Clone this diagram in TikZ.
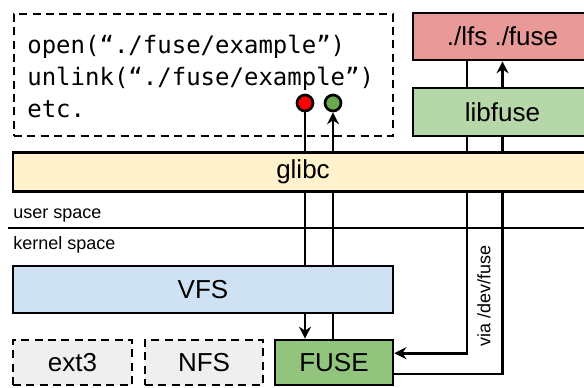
\documentclass[tikz,border=0pt]{standalone}
\usepackage{fontspec}
\setmainfont{Liberation Sans}
\newfontfamily\codefont{DejaVu Sans Mono}
\usepackage{xcolor}
\usetikzlibrary{arrows.meta, backgrounds}

\definecolor{lfsred}{HTML}{EA9999}
\definecolor{libgreen}{HTML}{B6D7A8}
\definecolor{glibcyellow}{HTML}{FFF2CC}
\definecolor{vfsblue}{HTML}{CFE2F3}
\definecolor{fusegreen}{HTML}{93C47D}
\definecolor{fsgray}{HTML}{EFEFEF}
\definecolor{retgreen}{HTML}{6AA84F}

\begin{document}
\begin{tikzpicture}[x=0.75pt, y=-0.75pt, line width=2pt,
    >={Stealth[length=9pt,width=9pt,inset=3pt]},
    layer/.style={draw, rectangle, inner sep=0pt, font=\fontsize{19.5}{23}\selectfont},
    fsbox/.style={layer, fill=fsgray, dash pattern=on 6pt off 4pt},
    small/.style={inner sep=0pt, font=\fontsize{13.5}{16}\selectfont},
    hole/.style={draw, circle, minimum size=12pt, inner sep=0pt},
    link/.style={->, line width=2pt}]
    \clip (0,0) rectangle (584,387);

    % user space: the program and the libraries
    \node[draw, dash pattern=on 6pt off 4pt, minimum width=284.25pt, minimum height=91.5pt] (app) at (203.5,75) {};
    % base of a multi-line node is its last line
    \node[anchor=base west, align=left, inner sep=0pt, font=\codefont\fontsize{18}{24}\selectfont] (code) at (26,117)
        {open(“./fuse/example”)\\unlink(“./fuse/example”)\\etc.};
    \node[layer, fill=lfsred, minimum width=134.25pt, minimum height=35.25pt] (lfs) at (502.5,36.5) {./lfs ./fuse};
    \node[layer, fill=libgreen, minimum width=134.25pt, minimum height=36pt] (libfuse) at (502.5,112) {libfuse};
    \node[layer, fill=glibcyellow, minimum width=435pt, minimum height=28.9pt] (glibc) at (303,172) {glibc};

    % the boundary
    \draw (8,228) -- (600,228);
    \node[small, anchor=base west] (user) at (12,218) {user space};
    \node[small, anchor=base west] (kernel) at (12,249) {kernel space};

    % kernel space
    \node[layer, fill=vfsblue, minimum width=285pt, minimum height=35.25pt] (vfs) at (203,289.5) {VFS};
    \node[fsbox, minimum width=89.25pt, minimum height=33.75pt] (ext) at (72.5,362.5) {ext3};
    \node[fsbox, minimum width=88.5pt, minimum height=33.75pt] (nfs) at (204,362.5) {NFS};
    \node[layer, fill=fusegreen, minimum width=88.5pt, minimum height=33.75pt] (fuse) at (334,362.5) {FUSE};

    % call and return points
    \node[hole, fill=red] (req) at (305,103) {};
    \node[hole, fill=retgreen] (ret) at (333,103) {};
    \coordinate (down) at (467,0);

    % paths run behind the boxes (the layer needs its own line width)
    \begin{pgfonlayer}{background}
        \draw[link] (req) -- (req |- fuse.north);
        \draw[link] (ret |- fuse.north) -- (ret);
        \draw[link] (lfs.south -| down) |- ([yshift=7pt]fuse.east);
        \draw[link] ([yshift=-8.5pt]fuse.east) -| (lfs.south);
    \end{pgfonlayer}
    \node[small, rotate=90] (via) at (484,295.5) {via /dev/fuse};
\end{tikzpicture}
\end{document}
